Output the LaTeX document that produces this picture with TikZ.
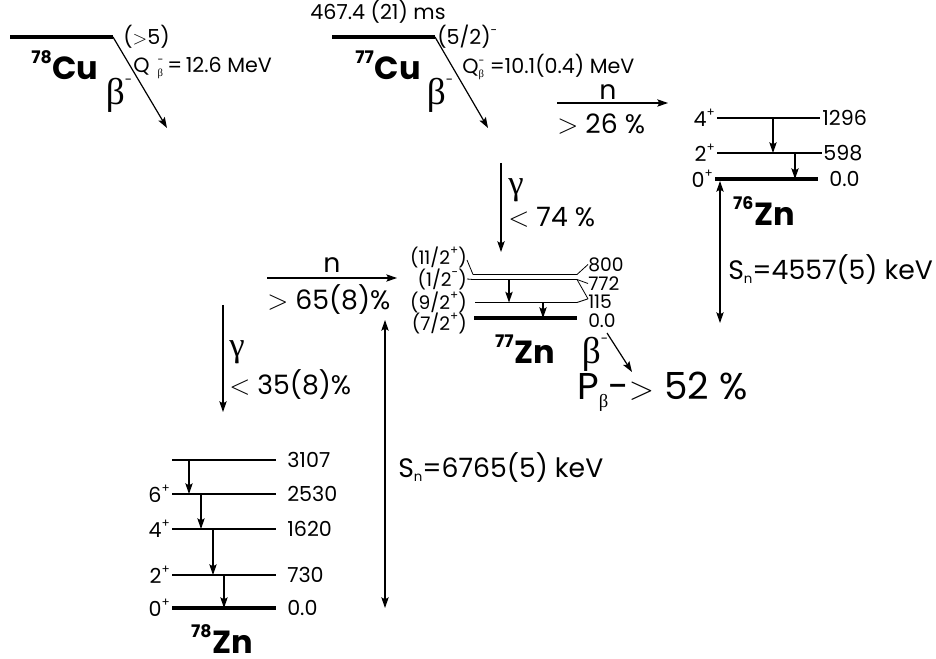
\documentclass[tikz,border=0pt]{standalone}
\usepackage{fontspec}
\setmainfont{Poppins}
\newfontfamily\grk{Liberation Serif}
\usetikzlibrary{arrows.meta}
\newcommand{\up}[1]{\raisebox{0.9ex}{\fontsize{9}{9}\selectfont #1}}
\newcommand{\isolab}[2]{{\bfseries\raisebox{12pt}{\fontsize{13}{13}\selectfont #1}\kern0.5pt{\fontsize{24}{26}\selectfont #2}}}
\newcommand{\betam}{{\grk\fontsize{28}{30}\selectfont β}\raisebox{15pt}{\fontsize{10}{10}\selectfont -}}
\newcommand{\gam}{{\grk\fontsize{26}{28}\selectfont γ}}
\newcommand{\gtr}{\ensuremath{>}}
\newcommand{\lsr}{\ensuremath{<}}
\tikzset{
  lvl/.style={line width=1.2pt},
  glvl/.style={line width=3.6pt},
  culvl/.style={line width=3pt},
  tr/.style={line width=0.9pt,-{Stealth[length=8pt,width=5.5pt,inset=1.5pt]}},
  dtr/.style={line width=0.9pt,{Stealth[length=8pt,width=5.5pt,inset=1.5pt]}-{Stealth[length=8pt,width=5.5pt,inset=1.5pt]}},
  thinc/.style={line width=0.6pt},
  sm/.style={inner sep=0pt,font=\fontsize{15.5}{17}\selectfont},
  xs/.style={inner sep=0pt,font=\fontsize{14}{15}\selectfont},
  md/.style={inner sep=0pt,font=\fontsize{20}{23}\selectfont},
  lg/.style={inner sep=0pt,font=\fontsize{28}{31}\selectfont},
  iso/.style={inner sep=0pt}
}
\begin{document}
\begin{tikzpicture}[x=0.75pt,y=-0.75pt]
\useasboundingbox (0,0) rectangle (936,659);
% ---------- 78Cu
\coordinate (cu78L) at (10,37); \coordinate (cu78R) at (113,37);
\draw[culvl] (cu78L) -- (cu78R);
\node[sm,anchor=west] (cu78s) at (123,37) {(\gtr5)};
\node[iso] (cu78n) at (65,65) {\isolab{78}{Cu}};
\node[inner sep=0pt] (cu78b) at (119,95) {\betam};
\coordinate (cu78e) at (167,128);
\draw[tr] (cu78R) -- (cu78e);
\node[sm,anchor=west] (cu78q) at (133,68) {Q\hspace{6pt}\rlap{\raisebox{-3pt}{\grk\fontsize{8}{8}\selectfont β}}\raisebox{7pt}{\fontsize{8}{8}\selectfont -}\hspace{3pt}=\,12.6 MeV};
% ---------- 77Cu
\node[sm] (hl) at (378,12) {467.4 (21) ms};
\coordinate (cu77L) at (332,37); \coordinate (cu77R) at (435,37);
\draw[culvl] (cu77L) -- (cu77R);
\node[sm,anchor=west] (cu77s) at (437,37) {(5/2)\up{-}};
\node[iso] (cu77n) at (388,65) {\isolab{77}{Cu}};
\node[inner sep=0pt] (cu77b) at (440,95) {\betam};
\coordinate (cu77e) at (488,128);
\draw[tr] (cu77R) -- (cu77e);
\node[sm,anchor=west] (cu77q) at (462,67) {Q\rlap{\raisebox{-3pt}{\grk\fontsize{8}{8}\selectfont β}}\raisebox{7pt}{\fontsize{8}{8}\selectfont -}\hspace{4pt}=10.1(0.4) MeV};
% ---------- n to 76Zn
\coordinate (n1a) at (557,103); \coordinate (n1b) at (668,103);
\draw[tr] (n1a) -- (n1b);
\node[md] (n1t) at (608,92) {n};
\node[md,anchor=west] (n1p) at (557,124) {\gtr{} 26 \%};
% ---------- 76Zn
\coordinate (z76a) at (717,118); \coordinate (z76b) at (820,118);
\coordinate (z76c) at (717,153); \coordinate (z76d) at (822,153);
\coordinate (z76e) at (715,179); \coordinate (z76f) at (818,179);
\draw[lvl] (z76a) -- (z76b);
\draw[lvl] (z76c) -- (z76d);
\draw[glvl] (z76e) -- (z76f);
\node[sm,anchor=east] (z76s4) at (715,118) {4\up{+}};
\node[sm,anchor=east] (z76s2) at (715,153) {2\up{+}};
\node[sm,anchor=east] (z76s0) at (713,179) {0\up{+}};
\node[sm,anchor=west] (z76e4) at (822,118) {1296};
\node[sm,anchor=west] (z76e2) at (823,153) {598};
\node[sm,anchor=west] (z76e0) at (829,179) {0.0};
\coordinate (g76a) at (773,118); \coordinate (g76b) at (773,153);
\coordinate (g76c) at (795,153); \coordinate (g76d) at (795,179);
\draw[tr] (g76a) -- (g76b);
\draw[tr] (g76c) -- (g76d);
\node[iso] (z76n) at (764,211) {\isolab{76}{Zn}};
\coordinate (sn1a) at (720,181); \coordinate (sn1b) at (720,323);
\draw[dtr] (sn1a) -- (sn1b);
\node[md,anchor=west] (sn1t) at (728,270) {S\raisebox{-3pt}{\fontsize{10}{10}\selectfont n}=4557(5) keV};
% ---------- gamma 77Cu -> 77Zn
\coordinate (ga1) at (501,163); \coordinate (ga1b) at (501,252);
\draw[tr] (ga1) -- (ga1b);
\node[inner sep=0pt,anchor=west] (ga1g) at (508,190) {\gam};
\node[md,anchor=west] (ga1p) at (508,217) {\lsr{} 74 \%};
% ---------- 77Zn
\coordinate (z7a) at (473,274.5); \coordinate (z7b) at (577,274.5);
\coordinate (z7c) at (473,279.5); \coordinate (z7d) at (577,279.5);
\coordinate (z7e) at (475,302.5); \coordinate (z7f) at (577,302.5);
\coordinate (z7g) at (474,318); \coordinate (z7h) at (577,318);
\draw[lvl] (z7a) -- (z7b);
\draw[lvl] (z7c) -- (z7d);
\draw[lvl] (z7e) -- (z7f);
\draw[glvl] (z7g) -- (z7h);
\node[xs,anchor=west] (z7e800) at (588,264.5) {800};
\node[xs,anchor=west] (z7e772) at (588,283.5) {772};
\node[xs,anchor=west] (z7e115) at (588,301.5) {115};
\node[xs,anchor=west] (z7e0) at (588,321) {0.0};
\draw[thinc] (z7b) -- (z7e800.west);
\draw[thinc] (z7d) -- (z7e772.west);
\draw[thinc] (z7d) -- ([yshift=2pt]z7e115.west);
\draw[thinc] (z7f) -- ([yshift=2pt]z7e115.west);
\node[xs,anchor=east] (z7s11) at (467,257) {(11/2\up{+})};
\node[xs,anchor=east] (z7s1) at (467,279) {(1/2\up{-})};
\node[xs,anchor=east] (z7s9) at (467,302) {(9/2\up{+})};
\node[xs,anchor=east] (z7s7) at (467,323) {(7/2\up{+})};
\coordinate (c11) at (467,260);
\draw[thinc] (c11) -- (z7a);
\draw[thinc] (z7s1.east) -- (z7c);
\coordinate (g7a) at (509,279.5); \coordinate (g7b) at (509,302.5);
\coordinate (g7c) at (543,302.5); \coordinate (g7d) at (543,318);
\draw[tr] (g7a) -- (g7b);
\draw[tr] (g7c) -- (g7d);
\node[iso] (z77n) at (525,349) {\isolab{77}{Zn}};
\node[inner sep=0pt] (z77b) at (595,354) {\betam};
\coordinate (b7a) at (607,333); \coordinate (b7b) at (632,372);
\draw[tr] (b7a) -- (b7b);
\node[lg,anchor=west] (pb) at (577,392) {P\raisebox{-6pt}{\grk\fontsize{14}{14}\selectfont β}-\gtr{} 52 \%};
% ---------- n to 77Zn
\coordinate (n2a) at (267,278); \coordinate (n2b) at (397,278);
\draw[tr] (n2a) -- (n2b);
\node[md] (n2t) at (332,265) {n};
\node[md,anchor=west] (n2p) at (267,300) {\gtr{} 65(8)\%};
% ---------- gamma 78Cu -> 78Zn
\coordinate (ga2) at (223,305); \coordinate (ga2b) at (223,412);
\draw[tr] (ga2) -- (ga2b);
\node[inner sep=0pt,anchor=west] (ga2g) at (229,352) {\gam};
\node[md,anchor=west] (ga2p) at (229,385) {\lsr{} 35(8)\%};
% ---------- Sn 78Zn
\coordinate (sn2a) at (385,320); \coordinate (sn2b) at (385,608);
\draw[dtr] (sn2a) -- (sn2b);
\node[md,anchor=west] (sn2t) at (398,468) {S\raisebox{-3pt}{\fontsize{10}{10}\selectfont n}=6765(5) keV};
% ---------- 78Zn
\foreach \nm/\y in {l3107/460,l2530/494,l1620/529,l730/575}{
  \coordinate (\nm a) at (172,\y); \coordinate (\nm b) at (276,\y);
  \draw[lvl] (\nm a) -- (\nm b);
}
\coordinate (l0a) at (172,608); \coordinate (l0b) at (276,608);
\draw[glvl] (l0a) -- (l0b);
\node[sm,anchor=west] (e3107) at (287,460) {3107};
\node[sm,anchor=west] (e2530) at (287,494) {2530};
\node[sm,anchor=west] (e1620) at (287,529) {1620};
\node[sm,anchor=west] (e730) at (287,575) {730};
\node[sm,anchor=west] (e0) at (287,608) {0.0};
\node[sm,anchor=east] (s6) at (170,494) {6\up{+}};
\node[sm,anchor=east] (s4) at (170,529) {4\up{+}};
\node[sm,anchor=east] (s2) at (170,575) {2\up{+}};
\node[sm,anchor=east] (s0) at (170,608) {0\up{+}};
\coordinate (t1a) at (189,460); \coordinate (t1b) at (189,494);
\coordinate (t2a) at (201,494); \coordinate (t2b) at (201,529);
\coordinate (t3a) at (213,529); \coordinate (t3b) at (213,575);
\coordinate (t4a) at (224,575); \coordinate (t4b) at (224,608);
\draw[tr] (t1a) -- (t1b);
\draw[tr] (t2a) -- (t2b);
\draw[tr] (t3a) -- (t3b);
\draw[tr] (t4a) -- (t4b);
\node[iso] (z78n) at (222,639) {\isolab{78}{Zn}};
\end{tikzpicture}
\end{document}
